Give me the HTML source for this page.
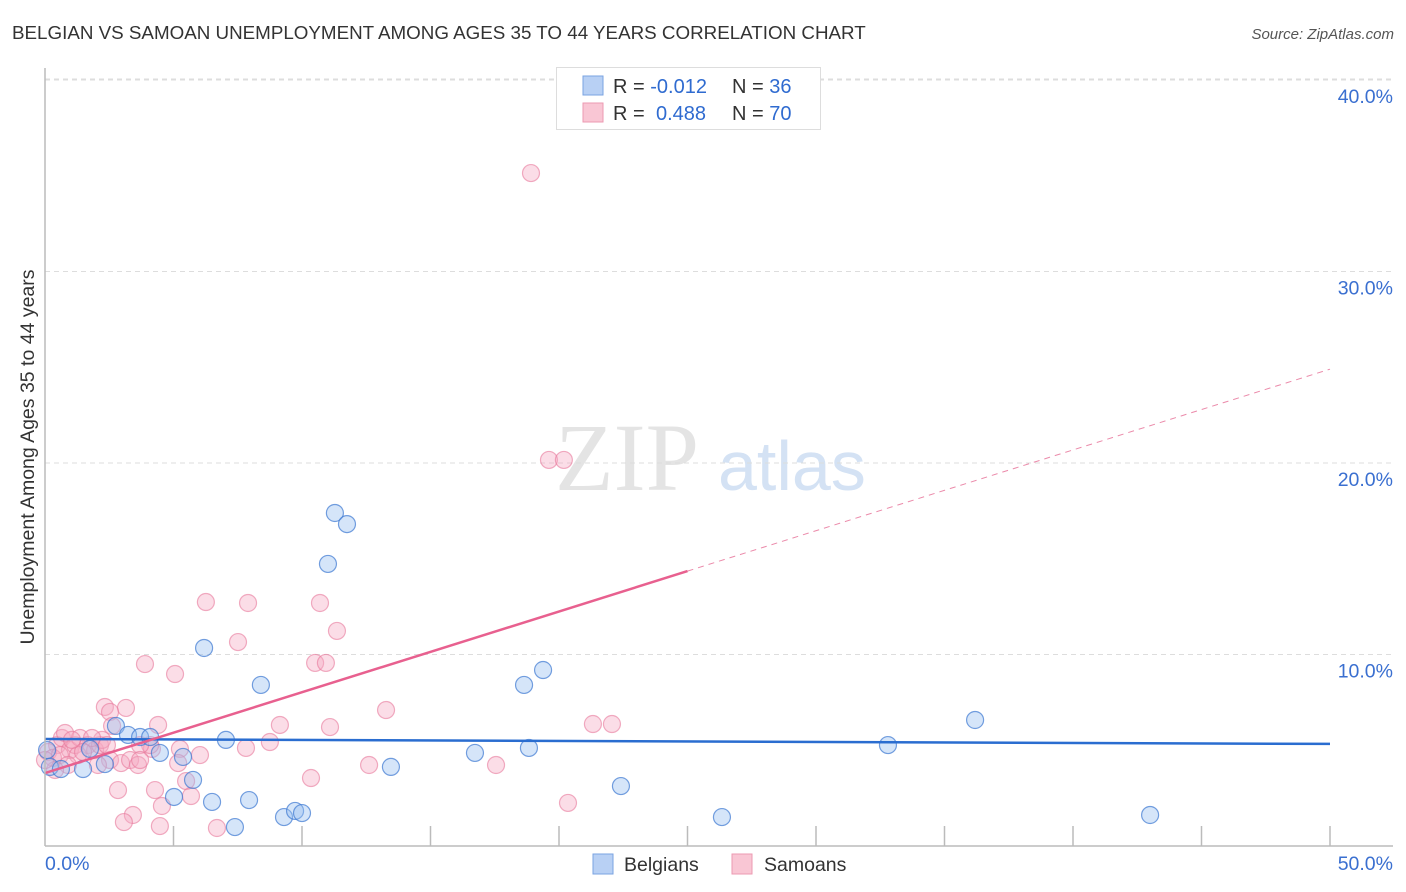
<!DOCTYPE html>
<html><head><meta charset="utf-8"><style>
body{margin:0;background:#fff;font-family:"Liberation Sans",sans-serif;}
svg{display:block}
</style></head><body>
<svg id="chart" width="1406" height="892">
<text x="12" y="39" font-size="18.8" fill="#333">BELGIAN VS SAMOAN UNEMPLOYMENT AMONG AGES 35 TO 44 YEARS CORRELATION CHART</text>
<text x="1394" y="39" font-size="15" fill="#555" font-style="italic" text-anchor="end">Source: ZipAtlas.com</text>
<text transform="translate(34,457) rotate(-90)" font-size="19.5" fill="#333" text-anchor="middle">Unemployment Among Ages 35 to 44 years</text>
<text x="555" y="490" font-size="96" fill="#e4e4e4" font-family="Liberation Serif,serif">ZIP</text>
<text x="718" y="490" font-size="70" fill="#d4e2f4">atlas</text>
<g id="grid"></g><g id="ticks"></g><g id="pts"></g><g id="lines"></g>
<line x1="45" y1="68" x2="45" y2="846" stroke="#bbb" stroke-width="1.5"/>
<line x1="45" y1="846" x2="1393" y2="846" stroke="#bbb" stroke-width="1.5"/>
<text x="45" y="870" font-size="19.5" fill="#3a6fd0">0.0%</text>
<text x="1393" y="870" font-size="19.5" fill="#3a6fd0" text-anchor="end">50.0%</text>
<g>
<rect x="556.5" y="67.5" width="264" height="62" fill="#fff" stroke="#ddd"/>
<rect x="583" y="76" width="20" height="19" fill="#b8d0f4" stroke="#7aa3e2"/>
<rect x="583" y="103" width="20" height="19" fill="#f9c6d4" stroke="#ec9ab2"/>
<text x="613" y="93" font-size="20" fill="#333">R = <tspan fill="#2f6bd0">-0.012</tspan><tspan x="732">N = </tspan><tspan fill="#2f6bd0">36</tspan></text>
<text x="613" y="120" font-size="20" fill="#333">R = <tspan x="656" fill="#2f6bd0">0.488</tspan><tspan x="732">N = </tspan><tspan fill="#2f6bd0">70</tspan></text>
</g>
<g>
<rect x="593" y="854" width="20" height="20" fill="#b8d0f4" stroke="#7aa3e2"/>
<text x="624" y="871" font-size="19.5" fill="#333">Belgians</text>
<rect x="732" y="854" width="20" height="20" fill="#f9c6d4" stroke="#ec9ab2"/>
<text x="764" y="871" font-size="19.5" fill="#333">Samoans</text>
</g>
</svg>
<script>
const yTicks=[10,20,30,40];
const yTickLabels=["10.0%","20.0%","30.0%","40.0%"];
const xTicks=[5,10,15,20,25,30,35,40,45,50];
const belX=[0.19,0.62,1.48,1.75,2.33,2.76,3.23,3.70,4.09,4.47,5.37,5.76,5.02,6.50,7.04,7.39,7.94,8.40,6.19,9.30,9.73,10.0,11.01,11.28,11.75,13.46,16.73,18.64,18.83,19.38,22.41,26.34,32.80,36.19,43.0,0.08];
const belY=[4.13,4.02,4.02,5.07,4.28,6.27,5.80,5.69,5.69,4.86,4.65,3.45,2.56,2.30,5.54,0.99,2.40,8.41,10.34,1.51,1.83,1.72,14.73,17.39,16.81,4.13,4.86,8.41,5.12,9.19,3.13,1.51,5.27,6.58,1.62,5.01];
const samX=[18.91,19.61,20.19,6.26,7.90,10.70,7.51,11.36,3.89,5.06,10.51,10.93,2.33,3.15,2.53,13.27,4.40,2.61,9.14,11.09,21.32,22.06,8.75,4.16,5.25,6.03,7.82,12.61,17.55,20.35,10.35,5.49,5.68,4.28,2.84,4.55,3.42,3.07,4.47,6.69,0.47,0.66,0.97,1.17,0.12,0.31,0.78,1.36,1.67,1.95,2.14,2.22,1.83,0.58,1.28,2.53,2.96,3.31,3.62,2.06,0.89,0.39,0.0,1.48,4.09,3.70,1.05,2.41,3.70,5.18];
const samY=[35.14,20.16,20.16,12.74,12.69,12.69,10.65,11.23,9.50,8.98,9.56,9.56,7.26,7.21,7.00,7.10,6.32,6.27,6.32,6.21,6.37,6.37,5.43,5.07,5.07,4.75,5.12,4.23,4.23,2.25,3.55,3.39,2.61,2.92,2.92,2.09,1.62,1.25,1.04,0.94,5.27,5.64,5.01,5.27,4.91,4.60,5.90,5.64,5.27,5.01,5.27,5.54,5.64,4.75,4.75,4.49,4.33,4.49,4.23,4.23,4.23,3.97,4.49,4.91,5.27,5.27,5.54,5.27,4.49,4.33];
const belFit=[5.59,5.33];
const samFit=[3.81,24.9];
const samSolidEnd=25;
const sx=v=>45+v*25.7, sy=v=>846-v*19.15;
const NS="http://www.w3.org/2000/svg";
function mk(tag,attrs,parent){const e=document.createElementNS(NS,tag);for(const k in attrs)e.setAttribute(k,attrs[k]);document.getElementById(parent).appendChild(e);return e;}
yTicks.forEach((t,i)=>{
 const l=mk('line',{x1:45,x2:1393,y1:sy(t),y2:sy(t),stroke:'#ddd','stroke-dasharray':'5,4'},'grid');
 
 
 const tx=mk('text',{x:1393,y:sy(t)+23,'font-size':19.5,fill:'#3a6fd0','text-anchor':'end'},'grid');
 tx.textContent=yTickLabels[i];
 
 
});
const topGrid=mk('line',{x1:45,x2:1393,y1:79,y2:79,stroke:'#ddd','stroke-dasharray':'5,4'},'grid');


xTicks.forEach(t=>{
 const l=mk('line',{x1:sx(t),x2:sx(t),y1:826,y2:846,stroke:'#bbb','stroke-width':1.5},'ticks');
 
 
});
samX.forEach((x,i)=>{
 const c=mk('circle',{cx:sx(x),cy:sy(samY[i]),r:8.5,fill:'rgba(246,170,195,0.4)',stroke:'rgba(232,120,155,0.6)','stroke-width':1.2},'pts');
 
 
});
belX.forEach((x,i)=>{
 const c=mk('circle',{cx:sx(x),cy:sy(belY[i]),r:8.5,fill:'rgba(150,190,240,0.4)',stroke:'rgba(60,120,210,0.7)','stroke-width':1.2},'pts');
 
 
});
const fy=(f,x)=>f[0]+(f[1]-f[0])*x/50;
const b=mk('line',{x1:sx(0),y1:sy(fy(belFit,0)),x2:sx(50),y2:sy(fy(belFit,50)),stroke:'#2a6dd0','stroke-width':2.5},'lines');


const s1=mk('line',{x1:sx(0),y1:sy(fy(samFit,0)),x2:sx(samSolidEnd),y2:sy(fy(samFit,samSolidEnd)),stroke:'#e8608f','stroke-width':2.5},'lines');


const s2=mk('line',{x1:sx(samSolidEnd),y1:sy(fy(samFit,samSolidEnd)),x2:sx(50),y2:sy(fy(samFit,50)),stroke:'#eb8aaa','stroke-width':1,'stroke-dasharray':'6,5'},'lines');


</script>
</body></html>
